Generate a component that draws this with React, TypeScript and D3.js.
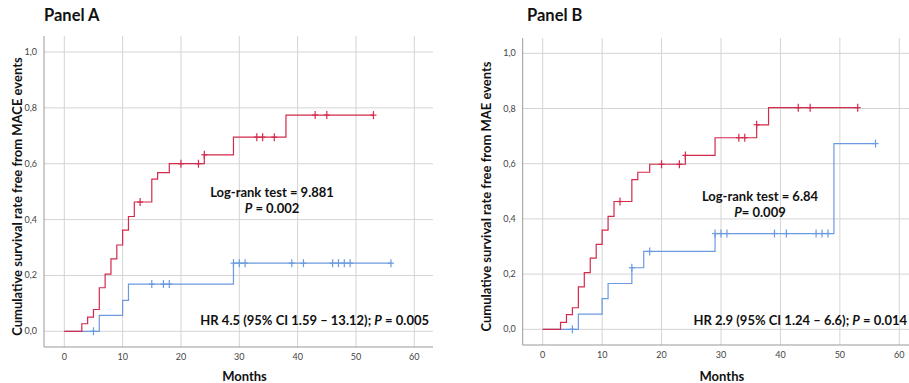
import React from 'react';
import * as d3 from 'd3';

// Panel A (MACE)
const redATimes = [0, 3, 4, 5, 6, 7, 8, 9, 10, 11, 12, 15, 16, 18, 24, 29, 38, 53];
const redAValues = [0, 0.027, 0.051, 0.078, 0.156, 0.205, 0.259, 0.309, 0.362, 0.411, 0.463, 0.545, 0.568, 0.6, 0.632, 0.695, 0.774, 0.774];
const redACensor = [13, 20, 23, 24, 33, 34, 36, 43, 45, 53];
const blueATimes = [0, 6, 10, 11, 29, 56];
const blueAValues = [0, 0.057, 0.111, 0.169, 0.244, 0.244];
const blueACensor = [5, 15, 17, 18, 29, 30, 31, 39, 41, 46, 47, 48, 49, 56];

// Panel B (MAE)
const redBTimes = [0, 3, 4, 5, 6, 7, 8, 9, 10, 11, 12, 15, 16, 18, 24, 29, 36, 38, 53];
const redBValues = [0, 0.025, 0.053, 0.078, 0.154, 0.205, 0.258, 0.308, 0.359, 0.409, 0.463, 0.542, 0.569, 0.598, 0.63, 0.694, 0.741, 0.803, 0.803];
const redBCensor = [13, 20, 23, 24, 33, 34, 36, 43, 45, 53];
const blueBTimes = [0, 6, 10, 11, 15, 17, 29, 49, 56];
const blueBValues = [0, 0.055, 0.111, 0.166, 0.223, 0.282, 0.347, 0.673, 0.673];
const blueBCensor = [5, 15, 18, 29, 30, 31, 39, 41, 46, 47, 48, 56];

const xTicks = [0, 10, 20, 30, 40, 50, 60];
const yTicks = [0, 0.2, 0.4, 0.6, 0.8, 1.0];
const yTickLabels = ['0,0', '0,2', '0,4', '0,6', '0,8', '1,0'];

const RED = '#d42a4c';
const BLUE = '#6b9ae0';
const FONT = 'Lato, "Open Sans", sans-serif';

type Curve = { times: number[]; values: number[]; censor: number[]; color: string };

type PanelProps = {
  title: string;
  yLabel: string;
  x0: number; x60: number; y0: number; y1: number;
  left: number; right: number; top: number; bottom: number;
  curves: Curve[];
  logRank: string; pText: string; logX: number; logY: number;
  hrMain: string; hrP: string; hrRight: number; hrY: number;
  yLabelX: number; titleX: number;
};

const Panel = (p: PanelProps) => {
  const x = d3.scaleLinear().domain([0, 60]).range([p.x0, p.x60]);
  const y = d3.scaleLinear().domain([0, 1]).range([p.y0, p.y1]);
  const line = d3
    .line<[number, number]>()
    .x(d => x(d[0]))
    .y(d => y(d[1]))
    .curve(d3.curveStepAfter);
  const valueAt = (c: Curve, t: number) => {
    const i = d3.bisectRight(c.times, t) - 1;
    return c.values[Math.max(0, i)];
  };
  const midX = (p.left + p.right) / 2;
  return (
    <g>
      <text x={p.titleX} y={21} fontFamily={FONT} fontWeight="bold" fontSize={16.5} fill="#111">
        {p.title}
      </text>
      {/* grid */}
      {xTicks.map(t => (
        <line key={'gx' + t} x1={x(t)} x2={x(t)} y1={p.top} y2={p.bottom} stroke="#d4d4d4" strokeWidth={1} />
      ))}
      {yTicks.map(t => (
        <line key={'gy' + t} x1={p.left} x2={p.right} y1={y(t)} y2={y(t)} stroke="#d4d4d4" strokeWidth={1} />
      ))}
      {/* axes */}
      <line x1={p.left} x2={p.left} y1={p.top} y2={p.bottom} stroke="#9a9a9a" strokeWidth={1} />
      <line x1={p.left} x2={p.right} y1={p.bottom} y2={p.bottom} stroke="#9a9a9a" strokeWidth={1.2} />
      {yTicks.map((t, i) => (
        <text key={'yl' + t} x={p.left - 7} y={y(t) + 3} textAnchor="end" fontFamily={FONT} fontSize={9} fill="#444">
          {yTickLabels[i]}
        </text>
      ))}
      {xTicks.map(t => (
        <text key={'xl' + t} x={x(t)} y={p.bottom + 13} textAnchor="middle" fontFamily={FONT} fontSize={9} fill="#444">
          {t}
        </text>
      ))}
      {/* curves */}
      {p.curves.map((c, ci) => (
        <g key={'c' + ci}>
          <path
            d={line(c.times.map((t, i) => [t, c.values[i]] as [number, number])) || ''}
            fill="none"
            stroke={c.color}
            strokeWidth={1.2}
          />
          {c.censor.map((t, i) => (
            <g key={'m' + i} stroke={c.color} strokeWidth={1.2}>
              <line x1={x(t)} x2={x(t)} y1={y(valueAt(c, t)) - 4} y2={y(valueAt(c, t)) + 4} />
              <line x1={x(t) - 3} x2={x(t) + 3} y1={y(valueAt(c, t))} y2={y(valueAt(c, t))} />
            </g>
          ))}
        </g>
      ))}
      {/* annotations */}
      <text x={p.logX} y={p.logY} textAnchor="middle" fontFamily={FONT} fontWeight="bold" fontSize={13} fill="#111">
        {p.logRank}
      </text>
      <text x={p.logX} y={p.logY + 16} textAnchor="middle" fontFamily={FONT} fontWeight="bold" fontSize={13} fill="#111">
        <tspan fontStyle="italic">P</tspan>
        {p.pText}
      </text>
      <text x={p.hrRight} y={p.hrY} textAnchor="end" fontFamily={FONT} fontWeight="bold" fontSize={13} fill="#111">
        {p.hrMain}
        <tspan fontStyle="italic">P</tspan>
        {p.hrP}
      </text>
      <text
        transform={`translate(${p.yLabelX},${(p.top + p.bottom) / 2 + 5}) rotate(-90)`}
        textAnchor="middle"
        fontFamily={FONT}
        fontWeight="bold"
        fontSize={13}
        fill="#111"
      >
        {p.yLabel}
      </text>
      <text x={midX + 6} y={381} textAnchor="middle" fontFamily={FONT} fontWeight="bold" fontSize={13} fill="#111">
        Months
      </text>
    </g>
  );
};

export default function App() {
  return (
    <svg width={909} height={383} style={{ position: 'absolute', left: 0, top: 0, background: '#fff' }}>
      <rect width={909} height={383} fill="#fff" />
      <Panel
        title="Panel A"
        titleX={44}
        yLabel="Cumulative survival rate free from MACE events"
        yLabelX={22}
        x0={64.3}
        x60={414.3}
        y0={331.3}
        y1={52}
        left={44}
        right={433}
        top={36}
        bottom={347}
        curves={[
          { times: blueATimes, values: blueAValues, censor: blueACensor, color: BLUE },
          { times: redATimes, values: redAValues, censor: redACensor, color: RED },
        ]}
        logRank="Log-rank test = 9.881"
        pText=" = 0.002"
        logX={272}
        logY={197}
        hrMain="HR 4.5 (95% CI 1.59 – 13.12); "
        hrP=" = 0.005"
        hrRight={429}
        hrY={325}
      />
      <Panel
        title="Panel B"
        titleX={527}
        yLabel="Cumulative survival rate free from MAE events"
        yLabelX={491}
        x0={542.7}
        x60={899.3}
        y0={329.3}
        y1={53.3}
        left={522.7}
        right={909}
        top={38}
        bottom={345}
        curves={[
          { times: blueBTimes, values: blueBValues, censor: blueBCensor, color: BLUE },
          { times: redBTimes, values: redBValues, censor: redBCensor, color: RED },
        ]}
        logRank="Log-rank test = 6.84"
        pText="= 0.009"
        logX={760}
        logY={201}
        hrMain="HR 2.9 (95% CI 1.24 – 6.6); "
        hrP=" = 0.014"
        hrRight={907}
        hrY={325}
      />
    </svg>
  );
}
